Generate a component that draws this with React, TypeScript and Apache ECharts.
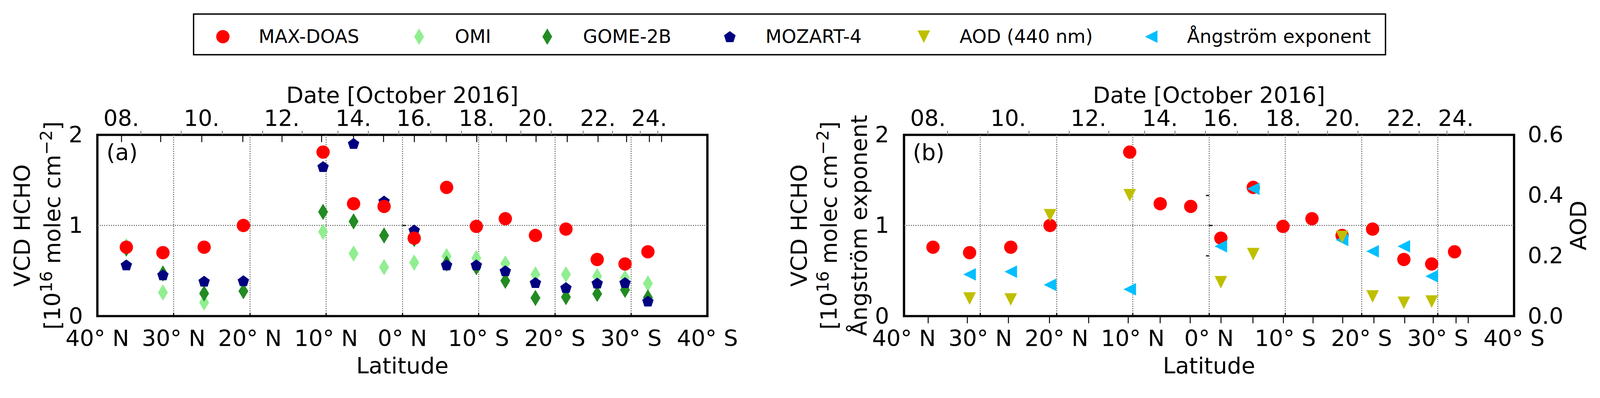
import React, { useEffect, useRef } from "react";
import * as echarts from "echarts";

// ---------------- data (latitude in degrees, + = North) ----------------
// MAX-DOAS daily means, 08–11 and 13–24 October 2016
const maxdoasLat = [36.2, 31.4, 26.0, 20.85, 10.4, 6.4, 2.4, -1.55, -5.8, -9.7, -13.5, -17.45, -21.45, -25.55, -29.2, -32.2];
const maxdoasVcd = [0.76, 0.70, 0.76, 1.0, 1.81, 1.24, 1.21, 0.86, 1.42, 0.99, 1.075, 0.89, 0.96, 0.625, 0.575, 0.71];

const omiLat = [36.2, 31.4, 26.0, 10.4, 6.4, 2.4, -1.55, -5.8, -9.7, -13.5, -17.45, -21.45, -25.55, -29.2, -32.2];
const omiVcd = [0.77, 0.26, 0.15, 0.93, 0.69, 0.54, 0.59, 0.66, 0.64, 0.58, 0.46, 0.46, 0.44, 0.42, 0.36];

const gomeLat = [36.2, 31.4, 26.0, 20.85, 10.4, 6.4, 2.4, -1.55, -5.8, -9.7, -13.5, -17.45, -21.45, -25.55, -29.2, -32.2];
const gomeVcd = [0.745, 0.47, 0.25, 0.275, 1.15, 1.045, 0.89, 0.85, 0.58, 0.54, 0.39, 0.2, 0.21, 0.245, 0.29, 0.205];

const mozartLat = [36.2, 31.4, 26.0, 20.85, 10.4, 6.4, 2.4, -1.55, -5.8, -9.7, -13.5, -17.45, -21.45, -25.55, -29.2, -32.2];
const mozartVcd = [0.565, 0.455, 0.385, 0.39, 1.65, 1.905, 1.27, 0.95, 0.565, 0.565, 0.5, 0.37, 0.315, 0.365, 0.37, 0.165];

const angLat = [31.4, 26.0, 20.85, 10.4, -1.55, -5.8, -17.45, -21.45, -25.55, -29.2];
const angVal = [0.46, 0.49, 0.345, 0.295, 0.77, 1.405, 0.84, 0.715, 0.77, 0.44];

const aodLat = [31.4, 26.0, 20.85, 10.4, -1.55, -5.8, -17.45, -21.45, -25.55, -29.2];
const aodVal = [0.058, 0.055, 0.334, 0.4, 0.112, 0.205, 0.262, 0.065, 0.044, 0.048];

// top (date) axis: latitude of the ship at each day, and the half-day marks
const dateTickLat = [36.86, 31.72, 26.33, 20.95, 15.81, 10.62, 6.43, 2.49, -1.55, -5.74, -9.73, -13.62, -17.51, -21.6, -25.64, -29.38, -32.37, -33.97];
const dateTickDay = ["08", "09", "10", "11", "12", "13", "14", "15", "16", "17", "18", "19", "20", "21", "22", "23", "24", "25"];
const dateLabelDays = ["08", "10", "12", "14", "16", "18", "20", "22", "24"];
const dateMinorLat = [34.31, 29.03, 23.64, 18.35, 13.17, 8.48, 4.49, 0.5, -3.69, -7.73, -11.67, -15.51, -19.5, -23.69, -27.53, -31.17, -33.47];

const legendNames = ["MAX-DOAS", "OMI", "GOME-2B", "MOZART-4", "AOD (440 nm)", "Ångström exponent"];

// ---------------- styling ----------------
const W = 4207;
const H = 1020;
const FONT = "DejaVu Sans";
const FS = 59;
const LH_TICK = 50;
const C_RED = "#ff0000";
const C_OMI = "#90ee90";
const C_GOME = "#228b22";
const C_MOZ = "#000080";
const C_AOD = "#bfbf00";
const C_ANG = "#00bfff";

const SYM_DIAMOND = "path://M0,-100 L60,0 L0,100 L-60,0 Z";
const SYM_PENTAGON = "path://M0,-100 L95.1,-30.9 L58.8,80.9 L-58.8,80.9 L-95.1,-30.9 Z";
const SYM_TRI_DOWN = "path://M-100,-100 L100,-100 L0,100 Z";
const SYM_TRI_LEFT = "path://M-100,0 L100,-100 L100,100 Z";

const pairs = (xs: number[], ys: number[]) => xs.map((x, i) => [x, ys[i]]);

const latLabel = (v: number) => (v === 0 ? "0° N" : v > 0 ? `${v}° N` : `${-v}° S`);

const dateLabelLat = dateLabelDays.map((d) => dateTickLat[dateTickDay.indexOf(d)]);
const dateLabel = (v: number) => {
  const i = dateTickLat.findIndex((l) => Math.abs(l - v) < 1e-6);
  return i >= 0 ? `${dateTickDay[i]}.` : "";
};

const GRID_TOP = 355;
const GRID_H = 477;
const GRID_W = 1604;
const GRID_A_LEFT = 256;
const GRID_B_LEFT = 2377;

const gridLine = { color: "#555", width: 2.5, type: [2.5, 3.5] as any };
const txt = { fontFamily: FONT, fontSize: FS, color: "#000", lineHeight: FS };
const tickTxt = { fontFamily: FONT, fontSize: FS, color: "#000", lineHeight: LH_TICK };

function bottomAxis(gridIndex: number) {
  return {
    type: "value",
    gridIndex,
    position: "bottom",
    min: -40,
    max: 40,
    interval: 10,
    inverse: true,
    axisLine: { show: false },
    axisTick: { show: true, inside: true, length: 8, lineStyle: { color: "#000", width: 3 } },
    axisLabel: { ...tickTxt, margin: 34, formatter: latLabel, hideOverlap: false },
    splitLine: { show: true, showMinLine: false, showMaxLine: false, lineStyle: gridLine },
    name: "Latitude",
    nameLocation: "middle",
    nameGap: 101,
    nameMoveOverlap: false,
    nameTextStyle: { ...txt },
  };
}

function dateAxis(gridIndex: number) {
  return {
    type: "value",
    gridIndex,
    position: "top",
    min: -40,
    max: 40,
    inverse: true,
    axisLine: { show: false },
    axisTick: {
      show: true,
      inside: true,
      length: 19,
      customValues: dateTickLat,
      lineStyle: { color: "#000", width: 2.5 },
    },
    axisLabel: { ...tickTxt, margin: 18, customValues: dateLabelLat, formatter: dateLabel, hideOverlap: false },
    splitLine: { show: false },
    name: "Date [October 2016]",
    nameLocation: "middle",
    nameGap: 74,
    nameMoveOverlap: false,
    nameTextStyle: { ...txt },
  };
}

function dateMinorAxis(gridIndex: number) {
  return {
    type: "value",
    gridIndex,
    position: "top",
    min: -40,
    max: 40,
    inverse: true,
    axisLine: { show: false },
    axisTick: {
      show: true,
      inside: false,
      length: 11,
      customValues: dateMinorLat,
      lineStyle: { color: "#888", width: 2.5 },
    },
    axisLabel: { show: false },
    splitLine: { show: false },
  };
}

const supRich = {
  sup: { fontFamily: FONT, fontSize: 44, lineHeight: 40, verticalAlign: "top", color: "#000" },
};

function vcdAxis(gridIndex: number, name: string, margin: number) {
  return {
    type: "value",
    gridIndex,
    position: "left",
    min: 0,
    max: 2,
    interval: 1,
    axisLine: { show: false },
    axisTick: { show: true, inside: true, length: 9, lineStyle: { color: "#000", width: 3 } },
    axisLabel: { ...tickTxt, margin, hideOverlap: false },
    splitLine: { show: true, showMinLine: false, showMaxLine: false, lineStyle: gridLine },
    name,
    nameLocation: "middle",
    nameRotate: 90,
    nameGap: 78,
    nameMoveOverlap: false,
    nameTextStyle: { ...txt, lineHeight: 79, rich: supRich },
  };
}

// legend entries: centre of the marker (px), marker box height and drawn width
const LEGEND_CY = 96.5;
const LEGEND_TEXT_BOX = 60; // lineHeight 50 + bottom padding 10
const legendLayout = [
  { name: legendNames[0], cx: 586, h: 35, w: 35, icon: "circle" },
  { name: legendNames[1], cx: 1102, h: 43, w: 25.8, icon: SYM_DIAMOND },
  { name: legendNames[2], cx: 1439, h: 43, w: 25.8, icon: SYM_DIAMOND },
  { name: legendNames[3], cx: 1919, h: 29, w: 30.5, icon: SYM_PENTAGON },
  { name: legendNames[4], cx: 2429, h: 33, w: 33, icon: SYM_TRI_DOWN },
  { name: legendNames[5], cx: 3027, h: 33, w: 33, icon: SYM_TRI_LEFT },
];

function scatter(name: string, xi: number, yi: number, data: number[][], symbol: string, size: any, color: string) {
  return {
    type: "scatter",
    name,
    xAxisIndex: xi,
    yAxisIndex: yi,
    data,
    symbol,
    symbolSize: size,
    itemStyle: { color, opacity: 1 },
    emphasis: { disabled: true },
  };
}

const gridBase = {
  top: GRID_TOP,
  width: GRID_W,
  height: GRID_H,
  show: true,
  borderColor: "#000",
  borderWidth: 6,
  backgroundColor: "transparent",
  containLabel: false,
  outerBoundsMode: "none",
};

export default function App() {
  const ref = useRef<HTMLDivElement>(null);
  // fit the fixed-size figure into whatever viewport the page actually has
  const vw = typeof window !== "undefined" ? window.innerWidth || W : W;
  const vh = typeof window !== "undefined" ? window.innerHeight || H : H;
  const k = Math.min(vw / W, vh / H, 1);

  useEffect(() => {
    document.documentElement.style.overflow = "hidden";
    document.body.style.margin = "0";
    document.body.style.overflow = "hidden";
    if (!ref.current) return;
    const chart = echarts.init(ref.current, undefined, { renderer: "svg", width: W, height: H });

    const option: any = {
      animation: false,
      backgroundColor: "#ffffff",
      textStyle: { fontFamily: FONT },
      grid: [
        { ...gridBase, left: GRID_A_LEFT },
        { ...gridBase, left: GRID_B_LEFT },
      ],
      xAxis: [bottomAxis(0), dateAxis(0), dateMinorAxis(0), bottomAxis(1), dateAxis(1), dateMinorAxis(1)],
      yAxis: [
        vcdAxis(0, "VCD HCHO\n[10{sup|16} molec cm{sup|−2}]", 38),
        vcdAxis(1, "VCD HCHO\n[10{sup|16} molec cm{sup|−2}]\nÅngström exponent", 39),
        {
          type: "value",
          gridIndex: 1,
          position: "right",
          min: 0,
          max: 0.6,
          interval: 0.2,
          axisLine: { show: false },
          axisTick: { show: true, inside: true, length: 8, lineStyle: { color: "#000", width: 3 } },
          axisLabel: { ...tickTxt, margin: 36, formatter: (v: number) => v.toFixed(1), hideOverlap: false },
          splitLine: { show: false },
          name: "AOD",
          nameLocation: "middle",
          nameRotate: 90,
          nameGap: 141,
          nameMoveOverlap: false,
          nameTextStyle: { ...txt },
        },
      ],
      // one legend per entry so that each marker sits exactly where the reference has it;
      // a legend is placed by the bounding box of its marker and text
      legend: legendLayout.map((l) => ({
        data: [{ name: l.name, icon: l.icon }],
        left: l.cx - l.w / 2,
        top: LEGEND_CY - LEGEND_TEXT_BOX / 2,
        itemWidth: 178,
        itemHeight: l.h,
        itemGap: 0,
        padding: 0,
        symbolKeepAspect: true,
        selectedMode: false,
        textStyle: { fontFamily: FONT, fontSize: 49, lineHeight: 50, color: "#000", padding: [0, 0, 10, 0] },
      })),
      graphic: [
        {
          type: "rect",
          z: 0,
          shape: { x: 509, y: 37, width: 3134, height: 107 },
          style: { fill: "#fff", stroke: "#000", lineWidth: 3.5 },
          silent: true,
        },
        {
          type: "text",
          x: 280,
          y: 401,
          style: { text: "(a)", fontFamily: FONT, fontSize: FS, fill: "#000", verticalAlign: "middle", align: "left" },
          silent: true,
        },
        {
          type: "text",
          x: 2400,
          y: 401,
          style: { text: "(b)", fontFamily: FONT, fontSize: FS, fill: "#000", verticalAlign: "middle", align: "left" },
          silent: true,
        },
      ],
      series: [
        scatter("OMI", 0, 0, pairs(omiLat, omiVcd), SYM_DIAMOND, [26, 43], C_OMI),
        scatter("GOME-2B", 0, 0, pairs(gomeLat, gomeVcd), SYM_DIAMOND, [26, 43], C_GOME),
        scatter("MOZART-4", 0, 0, pairs(mozartLat, mozartVcd), SYM_PENTAGON, [30, 28.5], C_MOZ),
        scatter("MAX-DOAS", 0, 0, pairs(maxdoasLat, maxdoasVcd), "circle", 35, C_RED),
        scatter("MAX-DOAS", 3, 1, pairs(maxdoasLat, maxdoasVcd), "circle", 35, C_RED),
        scatter("Ångström exponent", 3, 1, pairs(angLat, angVal), SYM_TRI_LEFT, [33, 33], C_ANG),
        scatter("AOD (440 nm)", 3, 2, pairs(aodLat, aodVal), SYM_TRI_DOWN, [33, 33], C_AOD),
      ],
    };

    chart.setOption(option);
    return () => chart.dispose();
  }, []);

  return (
    <div style={{ position: "absolute", left: 0, top: 0, width: W * k, height: H * k, overflow: "hidden", background: "#fff" }}>
      <div
        ref={ref}
        style={{
          width: W,
          height: H,
          background: "#fff",
          transform: k === 1 ? undefined : `scale(${k})`,
          transformOrigin: "0 0",
        }}
      />
    </div>
  );
}
